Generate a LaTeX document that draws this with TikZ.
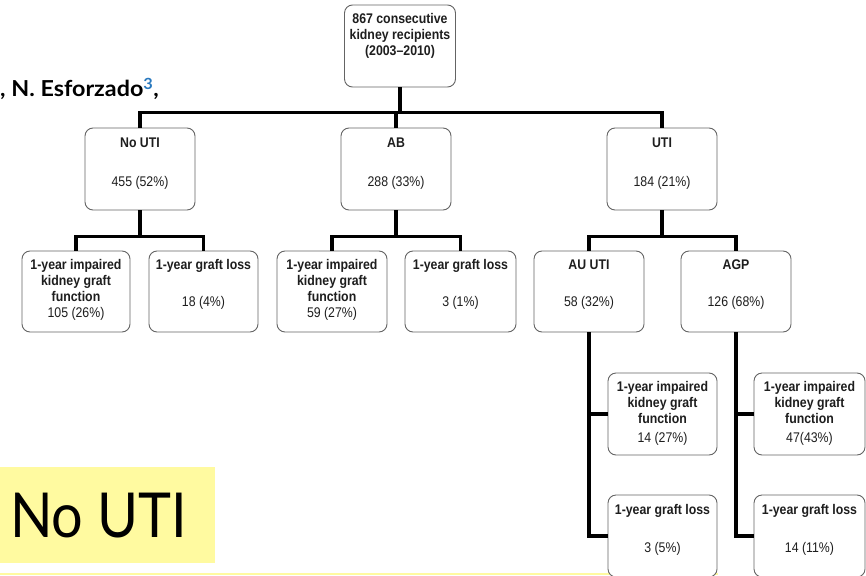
\documentclass[tikz,border=0pt]{standalone}
\usepackage{fontspec}
\setmainfont{Liberation Sans}
\newfontfamily\narrowfont[FakeStretch=0.88,Ligatures=TeX]{Liberation Sans}
\newfontfamily\slidefont[FakeStretch=0.9]{Lato}
\newfontfamily\authorfont[FakeStretch=1.06]{Lato}
\usetikzlibrary{positioning,calc}
\definecolor{slideyellow}{RGB}{255,250,160}
\definecolor{boxline}{RGB}{100,100,100}
\definecolor{boxtext}{RGB}{30,30,30}
\definecolor{supblue}{RGB}{40,120,190}
\tikzset{
  box/.style={draw=boxline,line width=0.9pt,rounded corners=8pt,fill=white,minimum width=#1,minimum height=82pt,inner sep=0pt},
  box/.default=110pt,
  boxlabel/.style={anchor=north,align=center,inner sep=0pt,text=boxtext,font=\narrowfont\fontsize{14}{16}\selectfont},
  conn/.style={line width=3.8pt,black,line join=miter}
}
\begin{document}
\begin{tikzpicture}[x=1pt,y=-1pt]
		\useasboundingbox (0,0) rectangle (866,575);
		% slide background bits
		\fill[slideyellow] (0,467) rectangle (215,563);
		\fill[slideyellow] (0,573) rectangle (718,575);
		\node[anchor=base west,inner sep=0pt,font=\slidefont\fontsize{62}{70}\selectfont] (slidetitle) at (10,537) {No UTI};
		\node[anchor=base west,inner sep=0pt,font=\authorfont\bfseries\fontsize{22}{24}\selectfont] (authors) at (0,97) {, N. Esforzado\textsuperscript{\color{supblue}3},};
		% boxes
		\node[box=111pt] (root) at (400,46) {};
		\node[box] (nouti) at (140,169) {};
		\node[box] (ab) at (396,169) {};
		\node[box] (uti) at (662,169) {};
		\node[box=108pt,minimum height=81pt] (noimp) at (76,291.5) {};
		\node[box=109pt,minimum height=81pt] (noloss) at (203.5,291.5) {};
		\node[box,minimum height=81pt] (abimp) at (332,291.5) {};
		\node[box=111pt,minimum height=81pt] (abloss) at (460.5,291.5) {};
		\node[box,minimum height=81pt] (auuti) at (589,291.5) {};
		\node[box,minimum height=81pt] (agp) at (736,291.5) {};
		\node[box=109pt] (auimp) at (662.5,414) {};
		\node[box=109pt] (auloss) at (662.5,536) {};
		\node[box=111pt] (agpimp) at (809.5,414) {};
		\node[box=111pt] (agploss) at (809.5,536) {};
		% box texts
		\node[boxlabel] at ([yshift=-9pt]root.north) {\bfseries 867 consecutive\\\bfseries kidney recipients\\\bfseries (2003--2010)};
		\node[boxlabel] at ([yshift=-10pt]nouti.north) {\bfseries No UTI\\[23pt]455 (52\%)};
		\node[boxlabel] at ([yshift=-10pt]ab.north) {\bfseries AB\\[23pt]288 (33\%)};
		\node[boxlabel] at ([yshift=-10pt]uti.north) {\bfseries UTI\\[23pt]184 (21\%)};
		\node[boxlabel] at ([yshift=-9pt]noimp.north) {\bfseries 1-year impaired\\\bfseries kidney graft\\\bfseries function\\105 (26\%)};
		\node[boxlabel] at ([yshift=-9pt]noloss.north) {\bfseries 1-year graft loss\\[21pt]18 (4\%)};
		\node[boxlabel] at ([yshift=-9pt]abimp.north) {\bfseries 1-year impaired\\\bfseries kidney graft\\\bfseries function\\59 (27\%)};
		\node[boxlabel] at ([yshift=-9pt]abloss.north) {\bfseries 1-year graft loss\\[21pt]3 (1\%)};
		\node[boxlabel] at ([yshift=-9pt]auuti.north) {\bfseries AU UTI\\[21pt]58 (32\%)};
		\node[boxlabel] at ([yshift=-9pt]agp.north) {\bfseries AGP\\[21pt]126 (68\%)};
		\node[boxlabel] at ([yshift=-9pt]auimp.north) {\bfseries 1-year impaired\\\bfseries kidney graft\\\bfseries function\\[3pt]14 (27\%)};
		\node[boxlabel] at ([yshift=-10pt]auloss.north) {\bfseries 1-year graft loss\\[22pt]3 (5\%)};
		\node[boxlabel] at ([yshift=-9pt]agpimp.north) {\bfseries 1-year impaired\\\bfseries kidney graft\\\bfseries function\\[3pt]47(43\%)};
		\node[boxlabel] at ([yshift=-10pt]agploss.north) {\bfseries 1-year graft loss\\[22pt]14 (11\%)};
		% connectors
		\draw[conn] (root.south) -- ++(0,25) -| (nouti.north);
		\draw[conn] (root.south) -- ++(0,25) -| (uti.north);
		\draw[conn] (root.south) -- ++(0,25) -| (ab.north);
		\draw[conn] (nouti.south) -- ++(0,26) -| (noimp.north);
		\draw[conn] (nouti.south) -- ++(0,26) -| (noloss.north);
		\draw[conn] (ab.south) -- ++(0,26) -| (abimp.north);
		\draw[conn] (ab.south) -- ++(0,26) -| (abloss.north);
		\draw[conn] (uti.south) -- ++(0,26) -| (auuti.north);
		\draw[conn] (uti.south) -- ++(0,26) -| (agp.north);
		\draw[conn] (auuti.south) |- (auloss.west);
		\draw[conn] (auuti.south |- auimp.west) -- (auimp.west);
		\draw[conn] (agp.south) |- (agploss.west);
		\draw[conn] (agp.south |- agpimp.west) -- (agpimp.west);
		\end{tikzpicture}
\end{document}
